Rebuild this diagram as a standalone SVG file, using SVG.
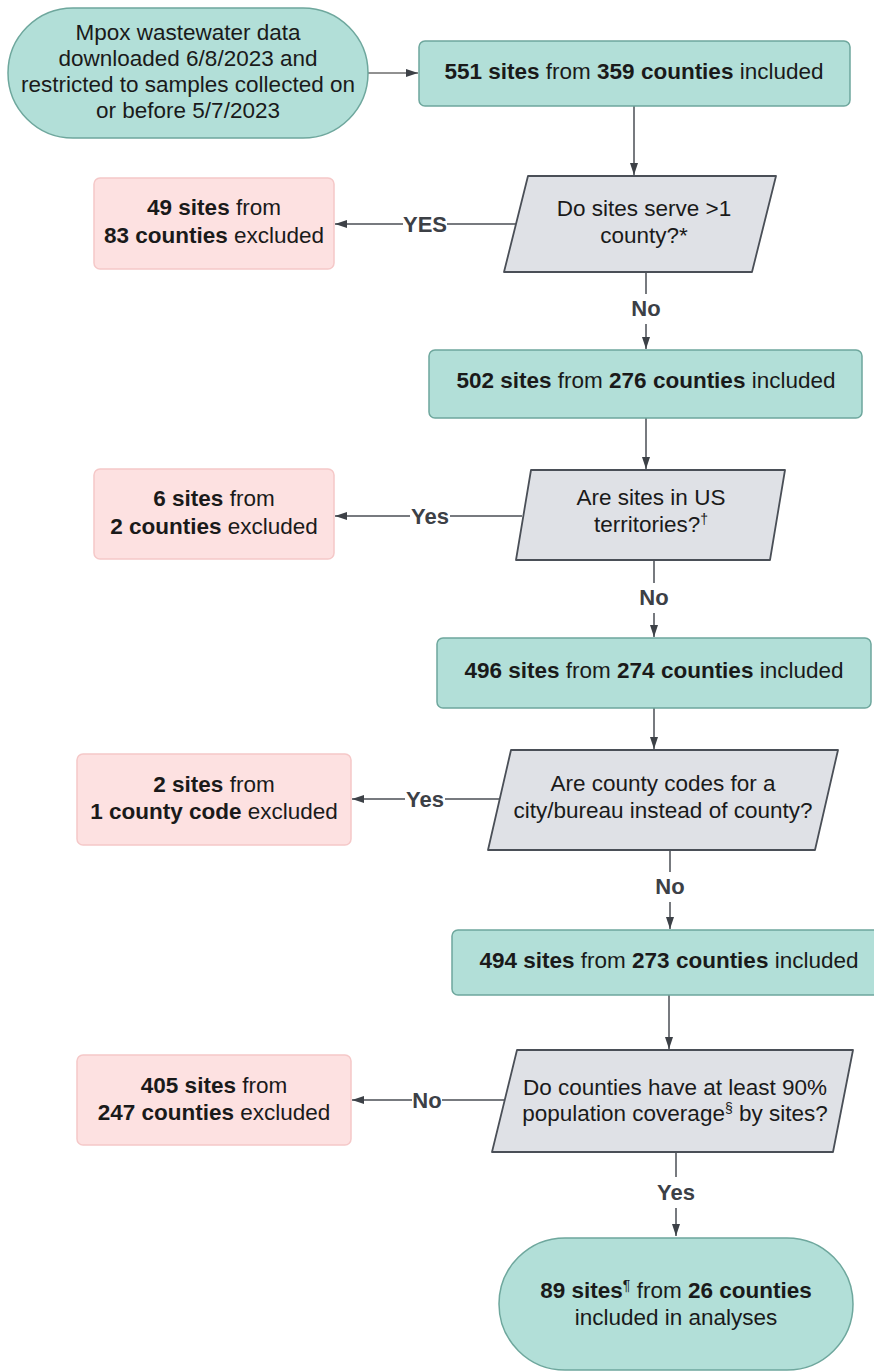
<svg xmlns="http://www.w3.org/2000/svg" width="874" height="1372" viewBox="0 0 874 1372">
<style>
text{font-family:"Liberation Sans",Arial,sans-serif;font-size:22.5px;fill:#1a1a1a;text-anchor:middle}
.b{font-weight:bold}
.lbl{font-weight:bold;fill:#3c4046;font-size:22px}
.teal{fill:#b2dfd8;stroke:#6ea79d;stroke-width:1.5}
.pink{fill:#fde1e1;stroke:#f5c8c8;stroke-width:1.5}
.dec{fill:#dfe1e6;stroke:#4a4f57;stroke-width:1.8;stroke-linejoin:round}
.ln{fill:none;stroke:#4a4e55;stroke-width:1.5}
.sup{font-size:14px}
</style>
<defs>
<marker id="ah" viewBox="0 0 12 8" refX="12" refY="4" markerWidth="12" markerHeight="8" markerUnits="userSpaceOnUse" orient="auto">
<path d="M0,0 L12,4 L0,8 Z" fill="#3d4147"/>
</marker>
</defs>
<rect width="874" height="1372" fill="#ffffff"/>

<g id="connectors">
<line class="ln" x1="368" y1="73" x2="418" y2="73" marker-end="url(#ah)" style="stroke:#222;stroke-width:1"/>
<line class="ln" x1="634" y1="106" x2="634" y2="175" marker-end="url(#ah)"/>
<line class="ln" x1="516" y1="224" x2="447" y2="224"/>
<line class="ln" x1="403" y1="224" x2="335" y2="224" marker-end="url(#ah)"/>
<text class="lbl" x="425" y="232">YES</text>
<line class="ln" x1="646" y1="272" x2="646" y2="294"/>
<line class="ln" x1="646" y1="324" x2="646" y2="349" marker-end="url(#ah)"/>
<text class="lbl" x="646" y="316">No</text>
<line class="ln" x1="646" y1="418" x2="646" y2="469" marker-end="url(#ah)"/>
<line class="ln" x1="522" y1="516" x2="450" y2="516"/>
<line class="ln" x1="410" y1="516" x2="335" y2="516" marker-end="url(#ah)"/>
<text class="lbl" x="430" y="524">Yes</text>
<line class="ln" x1="654" y1="560" x2="654" y2="583"/>
<line class="ln" x1="654" y1="613" x2="654" y2="637" marker-end="url(#ah)"/>
<text class="lbl" x="654" y="605">No</text>
<line class="ln" x1="654" y1="708" x2="654" y2="749" marker-end="url(#ah)"/>
<line class="ln" x1="499" y1="799" x2="445" y2="799"/>
<line class="ln" x1="405" y1="799" x2="352" y2="799" marker-end="url(#ah)"/>
<text class="lbl" x="425" y="807">Yes</text>
<line class="ln" x1="670" y1="850" x2="670" y2="872"/>
<line class="ln" x1="670" y1="902" x2="670" y2="929" marker-end="url(#ah)"/>
<text class="lbl" x="670" y="894">No</text>
<line class="ln" x1="669" y1="995" x2="669" y2="1049" marker-end="url(#ah)"/>
<line class="ln" x1="505" y1="1100" x2="442" y2="1100"/>
<line class="ln" x1="412" y1="1100" x2="352" y2="1100" marker-end="url(#ah)"/>
<text class="lbl" x="427" y="1108">No</text>
<line class="ln" x1="676" y1="1152" x2="676" y2="1177"/>
<line class="ln" x1="676" y1="1208" x2="676" y2="1236" marker-end="url(#ah)"/>
<text class="lbl" x="676" y="1200">Yes</text>
</g>

<g id="start">
<rect class="teal" x="8" y="8" width="360" height="130" rx="65" ry="65"/>
<text x="188" y="40">Mpox wastewater data</text>
<text x="188" y="66">downloaded 6/8/2023 and</text>
<text x="188" y="92">restricted to samples collected on</text>
<text x="188" y="118">or before 5/7/2023</text>
</g>

<g id="box551">
<rect class="teal" x="419" y="41" width="431" height="65" rx="6"/>
<text x="634" y="79"><tspan class="b">551 sites</tspan> from <tspan class="b">359 counties</tspan> included</text>
</g>

<g id="dec1">
<path class="dec" d="M528,176 L776,176 L752,272 L504,272 Z"/>
<text x="644" y="216">Do sites serve &gt;1</text>
<text x="644" y="243">county?*</text>
</g>

<g id="ex49">
<rect class="pink" x="94" y="178" width="240" height="91" rx="6"/>
<text x="214" y="215"><tspan class="b">49 sites</tspan> from</text>
<text x="214" y="243"><tspan class="b">83 counties</tspan> excluded</text>
</g>

<g id="box502">
<rect class="teal" x="429" y="350" width="433" height="68" rx="6"/>
<text x="646" y="388"><tspan class="b">502 sites</tspan> from <tspan class="b">276 counties</tspan> included</text>
</g>

<g id="dec2">
<path class="dec" d="M531,470 L785,470 L770,560 L516,560 Z"/>
<text x="651" y="505">Are sites in US</text>
<text x="651" y="532">territories?<tspan class="sup" dy="-8">†</tspan></text>
</g>

<g id="ex6">
<rect class="pink" x="94" y="469" width="240" height="90" rx="6"/>
<text x="214" y="506"><tspan class="b">6 sites</tspan> from</text>
<text x="214" y="534"><tspan class="b">2 counties</tspan> excluded</text>
</g>

<g id="box496">
<rect class="teal" x="437" y="638" width="434" height="70" rx="6"/>
<text x="654" y="678"><tspan class="b">496 sites</tspan> from <tspan class="b">274 counties</tspan> included</text>
</g>

<g id="dec3">
<path class="dec" d="M511,750 L838,750 L815,850 L488,850 Z"/>
<text x="663" y="791">Are county codes for a</text>
<text x="663" y="818">city/bureau instead of county?</text>
</g>

<g id="ex2">
<rect class="pink" x="77" y="754" width="274" height="91" rx="6"/>
<text x="214" y="792"><tspan class="b">2 sites</tspan> from</text>
<text x="214" y="819"><tspan class="b">1 county code</tspan> excluded</text>
</g>

<g id="box494">
<rect class="teal" x="452" y="930" width="434" height="65" rx="6"/>
<text x="669" y="968"><tspan class="b">494 sites</tspan> from <tspan class="b">273 counties</tspan> included</text>
</g>

<g id="dec4">
<path class="dec" d="M517,1050 L853,1050 L833,1152 L492,1152 Z"/>
<text x="675" y="1095">Do counties have at least 90%</text>
<text x="675" y="1121">population coverage<tspan class="sup" dy="-8">§</tspan><tspan dy="8"> by sites?</tspan></text>
</g>

<g id="ex405">
<rect class="pink" x="77" y="1055" width="274" height="90" rx="6"/>
<text x="214" y="1093"><tspan class="b">405 sites</tspan> from</text>
<text x="214" y="1120"><tspan class="b">247 counties</tspan> excluded</text>
</g>

<g id="end">
<rect class="teal" x="499" y="1238" width="354" height="132" rx="66" ry="66"/>
<text x="676" y="1298"><tspan class="b">89 sites</tspan><tspan class="sup" dy="-8">¶</tspan><tspan dy="8"> from </tspan><tspan class="b">26 counties</tspan></text>
<text x="676" y="1325">included in analyses</text>
</g>
</svg>
